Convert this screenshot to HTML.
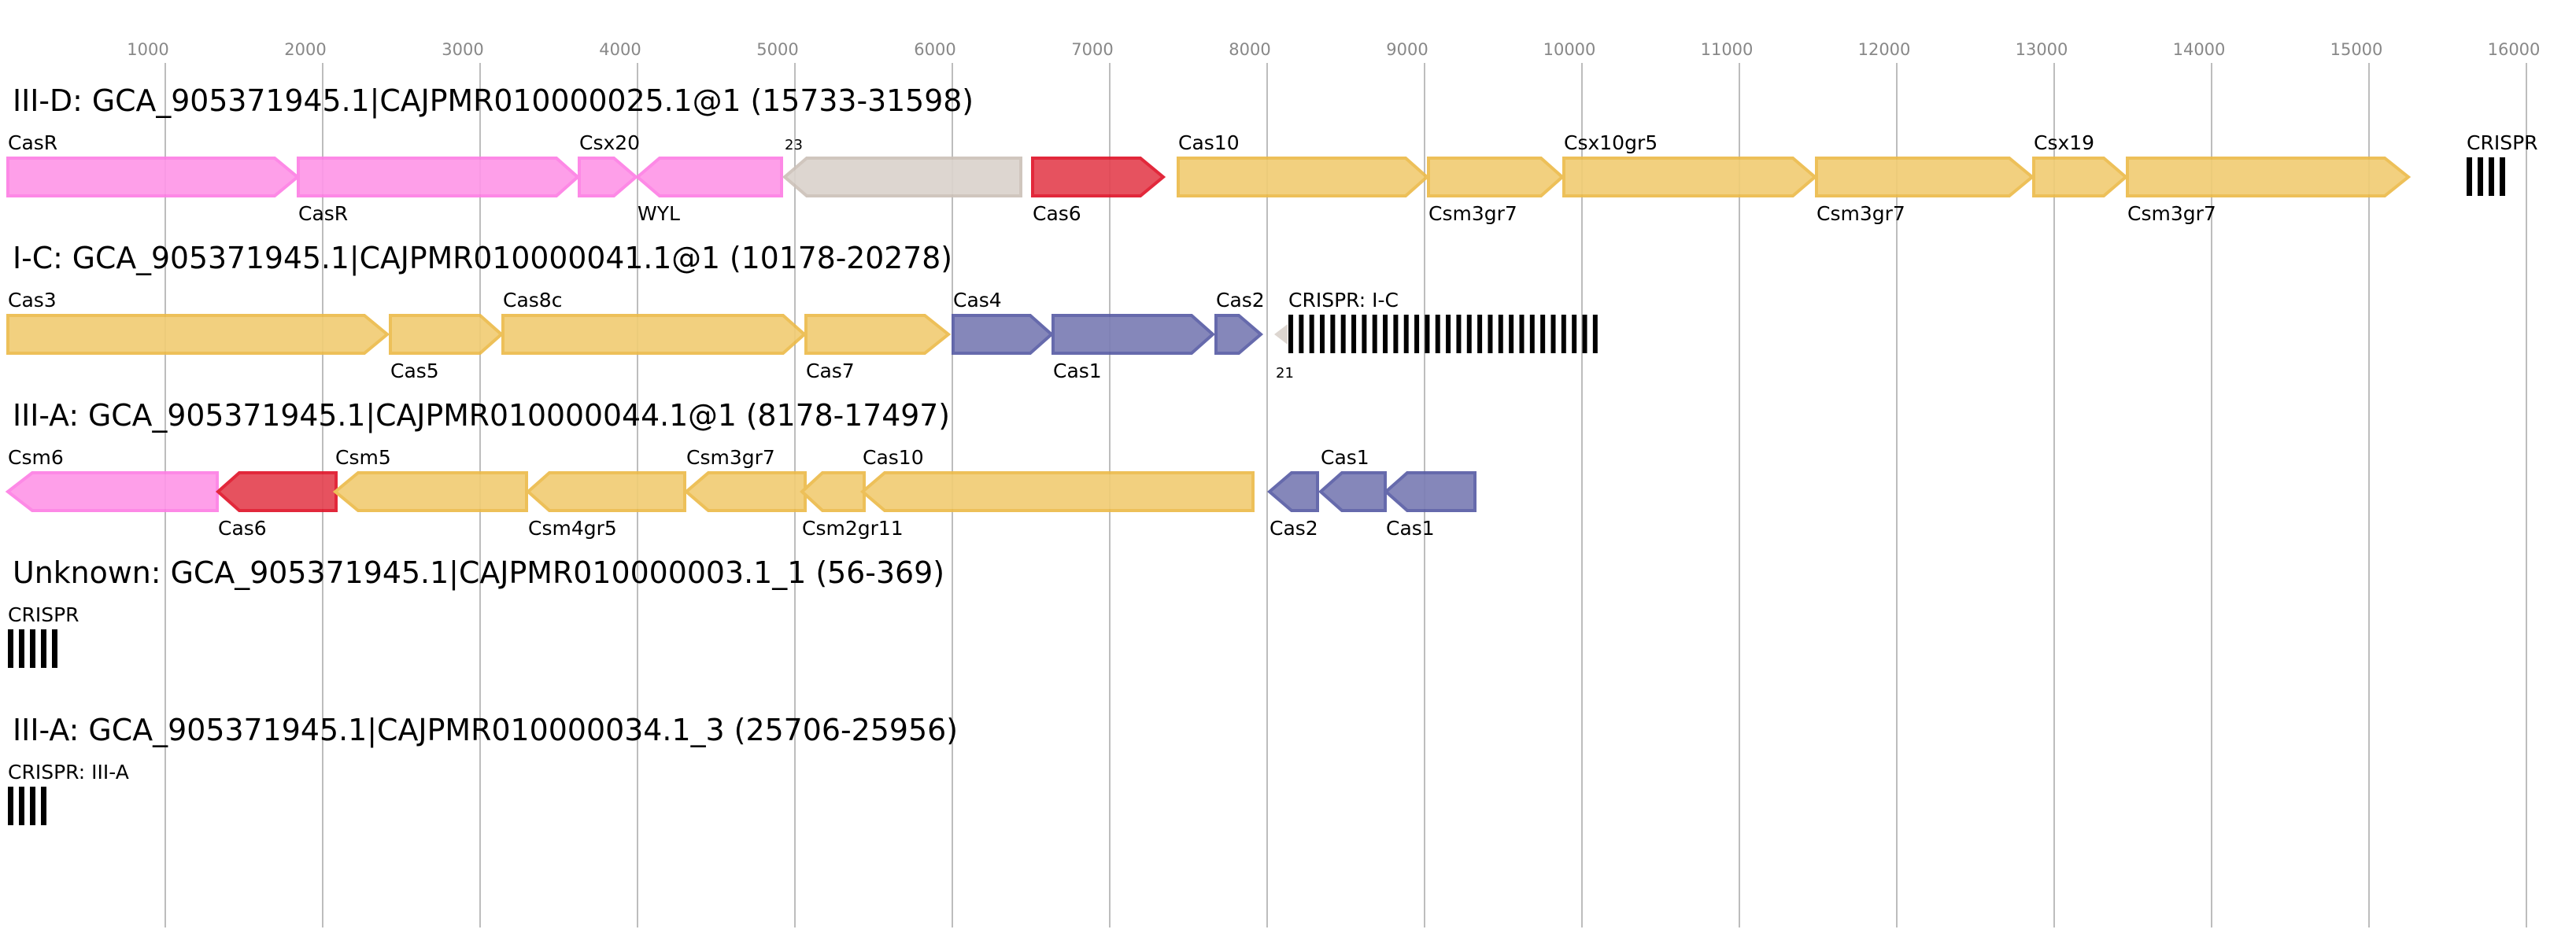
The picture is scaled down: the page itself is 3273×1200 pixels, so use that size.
<!DOCTYPE html>
<html><head><meta charset="utf-8"><style>html,body{margin:0;padding:0;background:#fff}svg{display:block}text{font-family:"DejaVu Sans","Liberation Sans",sans-serif}</style></head>
<body>
<svg width="3273" height="1200" viewBox="0 0 3273 1200" xmlns="http://www.w3.org/2000/svg">
<defs>
<pattern id="cr2" x="1637" y="0" width="13.34" height="10" patternUnits="userSpaceOnUse"><rect x="0" y="0" width="6" height="10" fill="#000"/></pattern>
</defs>
<rect width="3273" height="1200" fill="#fff"/>
<g stroke="#bdbdbd" stroke-width="2">
<line x1="210" y1="80" x2="210" y2="1179"/><line x1="410" y1="80" x2="410" y2="1179"/><line x1="610" y1="80" x2="610" y2="1179"/><line x1="810" y1="80" x2="810" y2="1179"/><line x1="1010" y1="80" x2="1010" y2="1179"/><line x1="1210" y1="80" x2="1210" y2="1179"/><line x1="1410" y1="80" x2="1410" y2="1179"/><line x1="1610" y1="80" x2="1610" y2="1179"/><line x1="1810" y1="80" x2="1810" y2="1179"/><line x1="2010" y1="80" x2="2010" y2="1179"/><line x1="2210" y1="80" x2="2210" y2="1179"/><line x1="2410" y1="80" x2="2410" y2="1179"/><line x1="2610" y1="80" x2="2610" y2="1179"/><line x1="2810" y1="80" x2="2810" y2="1179"/><line x1="3010" y1="80" x2="3010" y2="1179"/><line x1="3210" y1="80" x2="3210" y2="1179"/>
</g>
<g fill="#888" font-size="21" text-anchor="middle">
<text x="188" y="70">1000</text><text x="388" y="70">2000</text><text x="588" y="70">3000</text><text x="788" y="70">4000</text><text x="988" y="70">5000</text><text x="1188" y="70">6000</text><text x="1388" y="70">7000</text><text x="1588" y="70">8000</text><text x="1788" y="70">9000</text><text x="1994" y="70">10000</text><text x="2194" y="70">11000</text><text x="2394" y="70">12000</text><text x="2594" y="70">13000</text><text x="2794" y="70">14000</text><text x="2994" y="70">15000</text><text x="3194" y="70">16000</text>
</g>
<g fill="#000" font-size="38">
<text x="16" y="141" textLength="1221" lengthAdjust="spacingAndGlyphs">III-D: GCA_905371945.1|CAJPMR010000025.1@1 (15733-31598)</text>
<text x="16" y="341" textLength="1194" lengthAdjust="spacingAndGlyphs">I-C: GCA_905371945.1|CAJPMR010000041.1@1 (10178-20278)</text>
<text x="16" y="541" textLength="1191" lengthAdjust="spacingAndGlyphs">III-A: GCA_905371945.1|CAJPMR010000044.1@1 (8178-17497)</text>
<text x="16" y="741" textLength="1184" lengthAdjust="spacingAndGlyphs">Unknown: GCA_905371945.1|CAJPMR010000003.1_1 (56-369)</text>
<text x="16" y="941" textLength="1201" lengthAdjust="spacingAndGlyphs">III-A: GCA_905371945.1|CAJPMR010000034.1_3 (25706-25956)</text>
</g>
<g stroke-width="4" stroke-linejoin="miter" opacity="0.92">
<polygon points="10,201 349,201 378,225 349,249 10,249" fill="#fe97e8" stroke="#fd7fe4"/>
<polygon points="379,201 707,201 734,225 707,249 379,249" fill="#fe97e8" stroke="#fd7fe4"/>
<polygon points="736,201 780,201 808,225 780,249 736,249" fill="#fe97e8" stroke="#fd7fe4"/>
<polygon points="810,225 838,201 993,201 993,249 838,249" fill="#fe97e8" stroke="#fd7fe4"/>
<polygon points="997,225 1025,201 1297,201 1297,249 1025,249" fill="#dbd3cd" stroke="#cdc2b9"/>
<polygon points="1312,201 1449,201 1478,225 1449,249 1312,249" fill="#e44452" stroke="#e0162b"/>
<polygon points="1497,201 1786,201 1813,225 1786,249 1497,249" fill="#f1cd75" stroke="#ecbb4b"/>
<polygon points="1815,201 1958,201 1985,225 1958,249 1815,249" fill="#f1cd75" stroke="#ecbb4b"/>
<polygon points="1987,201 2278,201 2306,225 2278,249 1987,249" fill="#f1cd75" stroke="#ecbb4b"/>
<polygon points="2308,201 2553,201 2582,225 2553,249 2308,249" fill="#f1cd75" stroke="#ecbb4b"/>
<polygon points="2584,201 2673,201 2701,225 2673,249 2584,249" fill="#f1cd75" stroke="#ecbb4b"/>
<polygon points="2703,201 3030,201 3060,225 3030,249 2703,249" fill="#f1cd75" stroke="#ecbb4b"/>
<polygon points="10,401 463,401 492,425 463,449 10,449" fill="#f1cd75" stroke="#ecbb4b"/>
<polygon points="496,401 610,401 637,425 610,449 496,449" fill="#f1cd75" stroke="#ecbb4b"/>
<polygon points="639,401 995,401 1022,425 995,449 639,449" fill="#f1cd75" stroke="#ecbb4b"/>
<polygon points="1024,401 1175,401 1205,425 1175,449 1024,449" fill="#f1cd75" stroke="#ecbb4b"/>
<polygon points="1211,401 1309,401 1336,425 1309,449 1211,449" fill="#7b7db5" stroke="#5a5ea6"/>
<polygon points="1338,401 1514,401 1541,425 1514,449 1338,449" fill="#7b7db5" stroke="#5a5ea6"/>
<polygon points="1545,401 1574,401 1602,425 1574,449 1545,449" fill="#7b7db5" stroke="#5a5ea6"/>
<polygon points="1619,425 1636,412 1636,438" fill="#dbd3cd" stroke="none"/>
<polygon points="10,625 41,601 276,601 276,649 41,649" fill="#fe97e8" stroke="#fd7fe4"/>
<polygon points="277,625 304,601 427,601 427,649 304,649" fill="#e44452" stroke="#e0162b"/>
<polygon points="426,625 455,601 669,601 669,649 455,649" fill="#f1cd75" stroke="#ecbb4b"/>
<polygon points="671,625 698,601 870,601 870,649 698,649" fill="#f1cd75" stroke="#ecbb4b"/>
<polygon points="872,625 900,601 1023,601 1023,649 900,649" fill="#f1cd75" stroke="#ecbb4b"/>
<polygon points="1019,625 1045,601 1098,601 1098,649 1045,649" fill="#f1cd75" stroke="#ecbb4b"/>
<polygon points="1096,625 1124,601 1592,601 1592,649 1124,649" fill="#f1cd75" stroke="#ecbb4b"/>
<polygon points="1613,625 1641,601 1674,601 1674,649 1641,649" fill="#7b7db5" stroke="#5a5ea6"/>
<polygon points="1678,625 1705,601 1760,601 1760,649 1705,649" fill="#7b7db5" stroke="#5a5ea6"/>
<polygon points="1761,625 1788,601 1874,601 1874,649 1788,649" fill="#7b7db5" stroke="#5a5ea6"/>
</g>
<g fill="#000">
<rect x="3134" y="200" width="7" height="49"/><rect x="3148" y="200" width="7" height="49"/><rect x="3162" y="200" width="7" height="49"/><rect x="3176" y="200" width="7" height="49"/>
<rect x="1637" y="400" width="397" height="49" fill="url(#cr2)"/>
<rect x="10" y="800" width="7" height="49"/><rect x="24" y="800" width="7" height="49"/><rect x="38" y="800" width="7" height="49"/><rect x="52" y="800" width="7" height="49"/><rect x="66" y="800" width="7" height="49"/>
<rect x="10" y="1000" width="7" height="49"/><rect x="24" y="1000" width="7" height="49"/><rect x="38" y="1000" width="7" height="49"/><rect x="52" y="1000" width="7" height="49"/>
</g>
<g fill="#000" font-size="25">
<text x="10" y="190">CasR</text><text x="736" y="190">Csx20</text><text x="1497" y="190">Cas10</text><text x="1987" y="190">Csx10gr5</text><text x="2584" y="190">Csx19</text><text x="3134" y="190">CRISPR</text>
<text x="379" y="280">CasR</text><text x="810" y="280">WYL</text><text x="1312" y="280">Cas6</text><text x="1815" y="280">Csm3gr7</text><text x="2308" y="280">Csm3gr7</text><text x="2703" y="280">Csm3gr7</text>
<text x="10" y="390">Cas3</text><text x="639" y="390">Cas8c</text><text x="1211" y="390">Cas4</text><text x="1545" y="390">Cas2</text><text x="1637" y="390">CRISPR: I-C</text>
<text x="496" y="480">Cas5</text><text x="1024" y="480">Cas7</text><text x="1338" y="480">Cas1</text>
<text x="10" y="590">Csm6</text><text x="426" y="590">Csm5</text><text x="872" y="590">Csm3gr7</text><text x="1096" y="590">Cas10</text><text x="1678" y="590">Cas1</text>
<text x="277" y="680">Cas6</text><text x="671" y="680">Csm4gr5</text><text x="1019" y="680">Csm2gr11</text><text x="1613" y="680">Cas2</text><text x="1761" y="680">Cas1</text>
<text x="10" y="790">CRISPR</text>
<text x="10" y="990">CRISPR: III-A</text>
</g>
<g fill="#000" font-size="18">
<text x="997" y="190">23</text><text x="1621" y="480">21</text>
</g>
</svg>
</body></html>
